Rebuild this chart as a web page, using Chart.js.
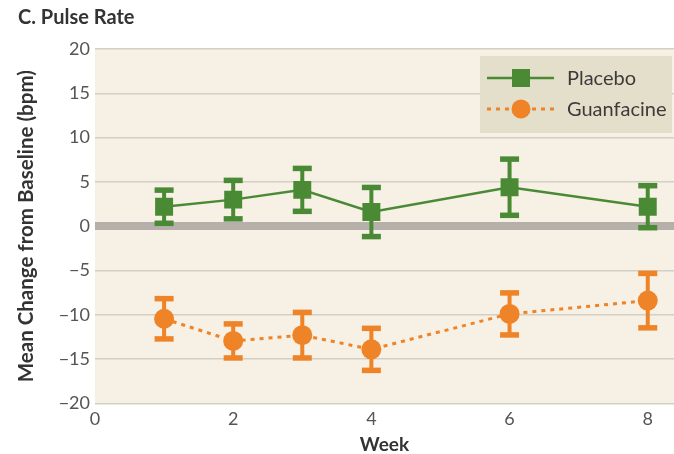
<!DOCTYPE html>
<html>
<head>
<meta charset="utf-8">
<script src="https://cdn.jsdelivr.net/npm/chart.js@4/dist/chart.umd.min.js"></script>
<style>
  html, body { margin: 0; padding: 0; background: #ffffff; }
  #wrap { width: 674px; height: 454px; position: relative; }
</style>
</head>
<body>
<div id="wrap"><canvas id="c" width="674" height="454"></canvas></div>
<script>
// Pulse rate change from baseline by study week (mean ± error)
const weeks = [1, 2, 3, 4, 6, 8];
const placeboMean = [2.2, 3.0, 4.1, 1.6, 4.4, 2.2];
const placeboErr = [1.9, 2.2, 2.45, 2.8, 3.2, 2.4];
const guanfacineMean = [-10.45, -12.95, -12.3, -13.9, -9.9, -8.4];
const guanfacineErr = [2.3, 1.95, 2.6, 2.4, 2.4, 3.1];
const xTicks = [0, 2, 4, 6, 8];
const seriesNames = ['Placebo', 'Guanfacine'];

const GREEN = '#4a8a35';
const ORANGE = '#ee8427';
const FONT = 'Lato, "Open Sans", sans-serif';

const toPoints = (xs, ys) => xs.map((x, i) => ({ x: x, y: ys[i] }));
const minus = v => (v < 0 ? '\u2212' + Math.abs(v) : String(v));

// Shaded plot background
const plotBackground = {
  id: 'plotBackground',
  beforeDraw(chart) {
    const { ctx, chartArea: a } = chart;
    ctx.save();
    ctx.fillStyle = '#f6f0e5';
    ctx.fillRect(a.left, a.top, a.right - a.left, a.bottom - a.top);
    ctx.restore();
  }
};

// Vertical error bars with flat caps, drawn from the data arrays
const errorBars = {
  id: 'errorBars',
  afterDatasetsDraw(chart) {
    const { ctx } = chart;
    const xs = chart.scales.x, ys = chart.scales.y;
    ctx.save();
    chart.data.datasets.forEach(ds => {
      ds.data.forEach((p, i) => {
        const e = ds.errors[i];
        const px = xs.getPixelForValue(p.x);
        const top = ys.getPixelForValue(p.y + e);
        const bot = ys.getPixelForValue(p.y - e);
        ctx.fillStyle = ds.borderColor;
        ctx.fillRect(px - 2, top, 4, bot - top);
        ctx.fillRect(px - 9.5, top - 2.5, 19, 5.5);
        ctx.fillRect(px - 9.5, bot - 3, 19, 5.5);
      });
    });
    ctx.restore();
  }
};

// Legend panel placed inside the upper right of the plot
const insideLegend = {
  id: 'insideLegend',
  afterDraw(chart) {
    const { ctx } = chart;
    const a = chart.chartArea;
    const boxL = 480, boxT = a.top + 7, boxW = a.right - 2 - boxL, boxH = 77;
    ctx.save();
    ctx.fillStyle = '#e4dfca';
    ctx.fillRect(boxL, boxT, boxW, boxH);
    const rows = [
      { y: boxT + 22, ds: chart.data.datasets[0] },
      { y: boxT + 53, ds: chart.data.datasets[1] }
    ];
    rows.forEach(r => {
      const ds = r.ds;
      ctx.strokeStyle = ds.borderColor;
      ctx.lineWidth = ds.borderWidth;
      ctx.setLineDash(ds.borderDash || []);
      ctx.beginPath();
      ctx.moveTo(boxL + 7, r.y);
      ctx.lineTo(boxL + 74, r.y);
      ctx.stroke();
      ctx.setLineDash([]);
      ctx.fillStyle = ds.borderColor;
      if (ds.pointStyle === 'rect') {
        ctx.fillRect(boxL + 32, r.y - 9, 18, 18);
      } else {
        ctx.beginPath();
        ctx.arc(boxL + 41, r.y, 9.5, 0, Math.PI * 2);
        ctx.fill();
      }
      ctx.fillStyle = '#3d3a3a';
      ctx.font = '20px ' + FONT;
      ctx.textBaseline = 'middle';
      ctx.textAlign = 'left';
      ctx.fillText(ds.label, boxL + 87, r.y + 1);
    });
    ctx.restore();
  }
};

new Chart(document.getElementById('c'), {
  type: 'line',
  data: {
    datasets: [
      {
        label: seriesNames[0],
        data: toPoints(weeks, placeboMean),
        errors: placeboErr,
        borderColor: GREEN,
        backgroundColor: GREEN,
        borderWidth: 2.5,
        pointStyle: 'rect',
        pointRadius: 12.7,
        pointHoverRadius: 12.7,
        pointBorderWidth: 0,
        tension: 0
      },
      {
        label: seriesNames[1],
        data: toPoints(weeks, guanfacineMean),
        errors: guanfacineErr,
        borderColor: ORANGE,
        backgroundColor: ORANGE,
        borderWidth: 3,
        borderDash: [4, 5],
        pointStyle: 'circle',
        pointRadius: 10,
        pointHoverRadius: 10,
        pointBorderWidth: 0,
        tension: 0
      }
    ]
  },
  options: {
    responsive: false,
    animation: false,
    layout: { autoPadding: false, padding: { left: 18, right: 0, top: 5, bottom: 0 } },
    plugins: {
      legend: { display: false },
      tooltip: { enabled: false },
      title: {
        display: true,
        text: 'C. Pulse Rate',
        align: 'start',
        color: '#333333',
        font: { family: FONT, size: 20, weight: 'bold' },
        padding: { top: 1, bottom: 19 }
      }
    },
    scales: {
      x: {
        type: 'linear',
        min: 0,
        max: 8.38,
        afterBuildTicks(scale) { scale.ticks = xTicks.map(v => ({ value: v })); },
        grid: { display: false, drawTicks: false },
        border: { display: false },
        ticks: {
          color: '#555555',
          font: { family: FONT, size: 18 },
          padding: 5
        },
        title: {
          display: true,
          text: 'Week',
          color: '#333333',
          font: { family: FONT, size: 19, weight: 'bold', lineHeight: 1 },
          padding: { top: 0, bottom: 0 }
        }
      },
      y: {
        min: -20,
        max: 20,
        afterFit(scale) { scale.width = 77; },
        ticks: {
          stepSize: 5,
          color: '#555555',
          font: { family: FONT, size: 18 },
          padding: 5,
          callback: v => minus(v)
        },
        grid: {
          drawTicks: false,
          color: ctx => (ctx.tick && ctx.tick.value === 0 ? '#b5b0aa' : '#d3cfc5'),
          lineWidth: ctx => (ctx.tick && ctx.tick.value === 0 ? 8 : 1.5)
        },
        border: { display: false },
        title: {
          display: true,
          text: 'Mean Change from Baseline (bpm)',
          color: '#333333',
          font: { family: FONT, size: 20.5, weight: 'bold', lineHeight: 1 },
          padding: { top: -2, bottom: 0 }
        }
      }
    }
  },
  plugins: [plotBackground, errorBars, insideLegend]
});
</script>
</body>
</html>
